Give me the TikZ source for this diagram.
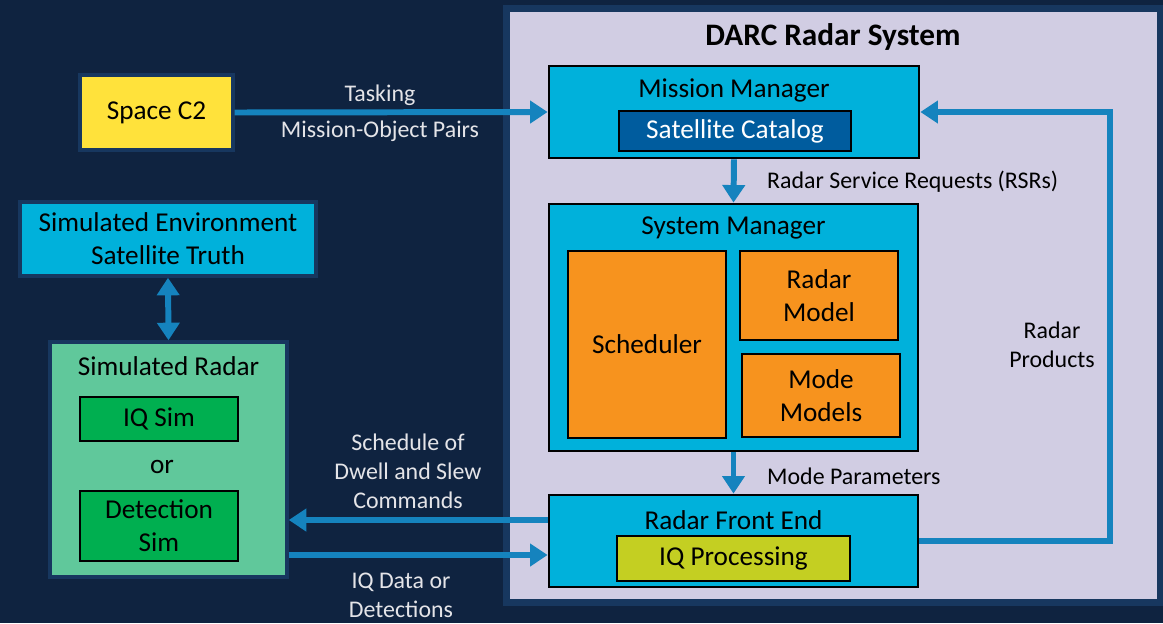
\documentclass[tikz,border=0pt]{standalone}
\usepackage{fontspec}
\setmainfont{Carlito}
\usetikzlibrary{arrows.meta}

\definecolor{navy}{HTML}{0F2340}
\definecolor{rimblue}{HTML}{17375F}
\definecolor{lavender}{HTML}{D1CDE3}
\definecolor{skyblue}{HTML}{00B1DB}
\definecolor{catblue}{HTML}{005C9E}
\definecolor{orangebox}{HTML}{F7931E}
\definecolor{limebox}{HTML}{C4CF22}
\definecolor{mintbox}{HTML}{60C89B}
\definecolor{greenbox}{HTML}{00AF50}
\definecolor{yellowbox}{HTML}{FFE23B}
\definecolor{flowblue}{HTML}{1583BE}
\definecolor{paletext}{HTML}{E4E4E8}

\begin{document}
\begin{tikzpicture}[x=0.02cm, y=-0.02cm,
  blk/.style={draw=black, line width=1.6pt, inner sep=0pt, align=center,
    font=\fontsize{15.5}{18.7}\selectfont},
  outblk/.style={draw=rimblue, line width=2pt, inner sep=0pt, align=center,
    font=\fontsize{15.5}{18.7}\selectfont},
  ttl/.style={font=\fontsize{15.5}{18.7}\selectfont},
  lbl/.style={align=center, font=\fontsize{13.6}{16.4}\selectfont},
  flow/.style={draw=flowblue, line width=3.4pt, -{Triangle[length=10pt,width=12.5pt]}}]
  \useasboundingbox (0,0) rectangle (1163,623);
  \fill[navy] (0,0) rectangle (1163,623);
  % radar system panel
  \fill[rimblue] (503,5) rectangle (1163,606);
  \fill[lavender] (510,12) rectangle (1157,599);
  \node[font=\bfseries\fontsize{17.8}{20}\selectfont] (systitle) at (833,37) {DARC Radar System};

  % managers
  \node[blk, fill=skyblue, minimum width=7.4cm, minimum height=1.84cm] (missionmgr) at (734,112) {};
  \node[ttl] (missionttl) at (734,90) {Mission Manager};
  \node[blk, fill=catblue, text=white, minimum width=4.64cm, minimum height=0.8cm] (satcat) at (735,131) {Satellite Catalog};

  \node[blk, fill=skyblue, minimum width=7.38cm, minimum height=4.94cm] (sysmgr) at (733.5,327.5) {};
  \node[ttl] (systemttl) at (733.5,228) {System Manager};
  \node[blk, fill=orangebox, minimum width=3.16cm, minimum height=3.74cm] (scheduler) at (647,344.5) {Scheduler};
  \node[blk, fill=orangebox, minimum width=3.16cm, minimum height=1.78cm] (radarmodel) at (819,295.5) {Radar\\Model};
  \node[blk, fill=orangebox, minimum width=3.16cm, minimum height=1.66cm] (modemodels) at (821,395.5) {Mode\\Models};

  \node[blk, fill=skyblue, minimum width=7.38cm, minimum height=1.84cm] (frontend) at (733.5,541) {};
  \node[ttl] (frontttl) at (733.5,520) {Radar Front End};
  \node[blk, fill=limebox, minimum width=4.66cm, minimum height=0.9cm] (iqproc) at (733.5,558.5) {IQ Processing};

  % outside blocks
  \node[outblk, fill=yellowbox, minimum width=3.06cm, minimum height=1.5cm] (spacectwo) at (156.5,112.5) {Space C2};
  \node[outblk, fill=skyblue, minimum width=5.92cm, minimum height=1.48cm] (simenv) at (168,239) {Simulated Environment\\Satellite Truth};
  \node[outblk, fill=mintbox, minimum width=4.74cm, minimum height=4.7cm] (simradar) at (168.5,459.5) {};
  \node[ttl] (simradarttl) at (168.5,366) {Simulated Radar};
  \node[blk, fill=greenbox, minimum width=3.16cm, minimum height=0.88cm] (iqsim) at (159,419) {IQ Sim};
  \node[ttl] (ortext) at (162,467) {or};
  \node[blk, fill=greenbox, minimum width=3.16cm, minimum height=1.4cm] (detsim) at (159,526) {Detection\\Sim};

  % connectors
  \coordinate (cmdrow) at (0,520);
  \coordinate (datarow) at (0,555);
  \coordinate (loopx) at (1110,300);
  \draw[flow] (spacectwo.east) -- (missionmgr.west);
  \draw[flow] (missionmgr.south) -- (sysmgr.north);
  \draw[flow] (sysmgr.south) -- (frontend.north);
  \draw[flow] (frontend.east) -- (frontend.east -| loopx) |- (missionmgr.east);
  \draw[flow, {Triangle[length=10pt,width=12.5pt]}-{Triangle[length=10pt,width=12.5pt]}] (simenv.south) -- (simradar.north);
  \draw[flow] (frontend.west |- cmdrow) -- (simradar.east |- cmdrow);
  \draw[flow] (simradar.east |- datarow) -- (frontend.west |- datarow);

  % labels
  \node[lbl, text=paletext] (tasklbl) at (380,95) {Tasking};
  \node[lbl, text=paletext] (pairlbl) at (380,131) {Mission-Object Pairs};
  \node[lbl, anchor=west] (rsrlbl) at (761,182) {Radar Service Requests (RSRs)};
  \node[lbl, anchor=west] (modelbl) at (761,476) {Mode Parameters};
  \node[lbl] (prodlbl) at (1052,345) {Radar\\Products};
  \node[lbl, text=paletext] (cmdlbl) at (408,471) {Schedule of\\Dwell and Slew\\Commands};
  \node[lbl, text=paletext] (datalbl) at (401,595) {IQ Data or\\Detections};
\end{tikzpicture}
\end{document}
